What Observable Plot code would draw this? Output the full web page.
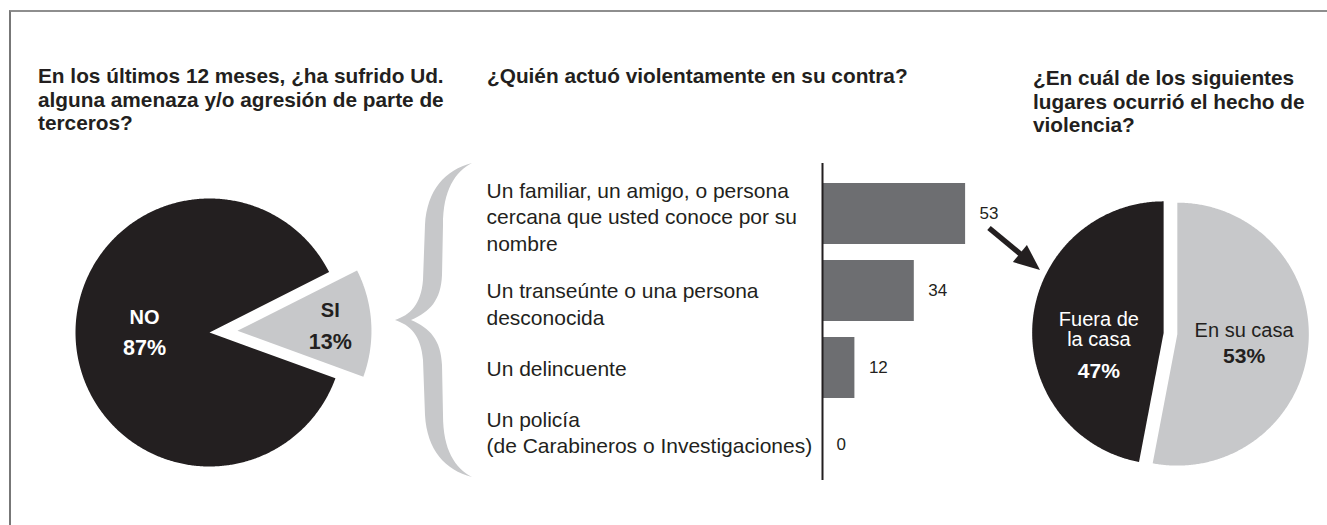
<!DOCTYPE html>
<html><head><meta charset="utf-8">
<script src="https://cdn.jsdelivr.net/npm/d3@7"></script>
<script src="https://cdn.jsdelivr.net/npm/@observablehq/plot@0.6"></script>
<style>
html,body{margin:0;padding:0;background:#fff;}
#wrap{position:relative;width:1327px;height:525px;overflow:hidden;background:#fff;
  font-family:"Liberation Sans",Arial,sans-serif;color:#231f20;}
.frame{position:absolute;left:9px;top:10px;right:-5px;bottom:-5px;border-top:2px solid #8e8e8e;border-left:2px solid #777;}
.title{position:absolute;font-weight:bold;font-size:20.8px;line-height:23.5px;white-space:nowrap;color:#231f20;}
.abs{position:absolute;}
</style></head><body>
<div id="wrap">
  <div class="frame"></div>
  <div id="t1" class="title" style="left:38px;top:64px;"></div>
  <div id="t2" class="title" style="left:487px;top:64px;"></div>
  <div id="t3" class="title" style="left:1033px;top:66px;"></div>
  <div id="pie1" class="abs" style="left:29px;top:152px;"></div>
  <div id="bars" class="abs" style="left:480px;top:150px;"></div>
  <div id="pie2" class="abs" style="left:1013px;top:176px;"></div>
  <svg class="abs" style="left:0;top:0;pointer-events:none" width="1327" height="525">
    <path id="brace" fill="#c7c8ca" d="M472,163 C445,170 427,190 425,225 L423,280 C421,305 410,315 395,320 C410,325 421,335 423,360 L425,415 C427,450 445,470 472,477 C455,468 443,450 443,415 L442,365 C441,340 430,328 411,320 C430,312 441,300 442,275 L443,225 C443,190 455,172 472,163 Z"/>
    <g id="arrow" fill="#231f20" stroke="#231f20">
      <line x1="989" y1="228" x2="1021" y2="254.5" stroke-width="5.5"/>
      <polygon stroke="none" points="1012.9,262 1026.9,245 1040,270"/>
    </g>
  </svg>
</div>
<script>
// ---------- Data ----------
const titleQ1 = ["En los últimos 12 meses, ¿ha sufrido Ud.", "alguna amenaza y/o agresión de parte de", "terceros?"];
const titleQ2 = ["¿Quién actuó violentamente en su contra?"];
const titleQ3 = ["¿En cuál de los siguientes", "lugares ocurrió el hecho de", "violencia?"];

const q1Categories = ["NO", "SI"];
const q1Values = [87, 13];

const q2Categories = [
  "Un familiar, un amigo, o persona\ncercana que usted conoce por su\nnombre",
  "Un transeúnte o una persona\ndesconocida",
  "Un delincuente",
  "Un policía\n(de Carabineros o Investigaciones)"
];
const q2Values = [53, 34, 12, 0];

const q3Categories = ["Fuera de\nla casa", "En su casa"];
const q3Values = [47, 53];

// ---------- Style / layout ----------
const DARK = "#231f20", LIGHT = "#c7c8ca", BAR = "#6d6e71";
const FONT = '"Liberation Sans",Arial,sans-serif';

document.getElementById("t1").innerHTML = titleQ1.join("<br>");
document.getElementById("t2").innerHTML = titleQ2.join("<br>");
document.getElementById("t3").innerHTML = titleQ3.join("<br>");

function piePlot({cats, vals, start, r, explode, colors, textColors, nameWeight, nameSize, pctSize, layout, size}) {
  const total = d3.sum(vals);
  const arcs = d3.pie().sort(null).startAngle(start).endAngle(start + 2 * Math.PI)(vals);
  const rows = [], labels = [];
  arcs.forEach((a, i) => {
    const mid = (a.startAngle + a.endAngle) / 2;
    const ox = explode[i] * Math.sin(mid), oy = -explode[i] * Math.cos(mid);
    rows.push({cat: cats[i], x: ox, y: oy});
    const n = Math.max(2, Math.ceil((a.endAngle - a.startAngle) / (Math.PI / 360)));
    for (let k = 0; k <= n; k++) {
      const t = a.startAngle + (a.endAngle - a.startAngle) * k / n;
      rows.push({cat: cats[i], x: ox + r * Math.sin(t), y: oy - r * Math.cos(t)});
    }
    const L = layout[i];
    const lx = ox + L.k * r * Math.sin(mid), ly = oy - L.k * r * Math.cos(mid);
    labels.push({cat: cats[i], x: lx, yName: ly + L.dyName, yPct: ly + L.dyPct,
      name: cats[i], pct: Math.round(vals[i] / total * 100) + "%", color: textColors[i]});
  });
  const h = size / 2;
  return Plot.plot({
    width: size, height: size, margin: 0,
    x: {domain: [-h, h], axis: null},
    y: {domain: [h, -h], axis: null},
    color: {domain: cats, range: colors},
    style: {fontFamily: FONT, background: "transparent", overflow: "visible"},
    marks: [
      Plot.line(rows, {x: "x", y: "y", z: "cat", fill: "cat", stroke: "none", curve: "linear"}),
      Plot.text(labels, {x: "x", y: "yName", text: "name", fill: "color", fontSize: nameSize, fontWeight: nameWeight,
        lineHeight: layout[0].nameLH, textAnchor: "middle", lineAnchor: "middle"}),
      Plot.text(labels, {x: "x", y: "yPct", text: "pct", fill: "color", fontSize: pctSize, fontWeight: "bold",
        textAnchor: "middle", lineAnchor: "middle"})
    ]
  });
}

document.getElementById("pie1").appendChild(piePlot({
  cats: q1Categories, vals: q1Values, start: 110 * Math.PI / 180, r: 134, explode: [0, 28],
  colors: [DARK, LIGHT], textColors: ["#fff", DARK], nameWeight: "bold", nameSize: 20, pctSize: 21.5, size: 360,
  layout: [{k: 0.485, dyName: -20.3, dyPct: 11.7, nameLH: 1.2}, {k: 0.694, dyName: -16, dyPct: 17}]
}));

document.getElementById("pie2").appendChild(piePlot({
  cats: q3Categories, vals: q3Values, start: -2 * Math.PI * q3Values[0] / d3.sum(q3Values), r: 134, explode: [7, 7],
  colors: [DARK, LIGHT], textColors: ["#fff", DARK], nameWeight: "normal", nameSize: 20.4, pctSize: 21.5, size: 320,
  layout: [{k: 0.495, dyName: 3.4, dyPct: 44.9, nameLH: 1.0}, {k: 0.51, dyName: -10.1, dyPct: 15.9}]
}));

// ---------- Bar chart ----------
const barData = q2Categories.map((c, i) => ({cat: c, value: q2Values[i]}));
const labelDy = [2, 12, 0, -13.5];
document.getElementById("bars").appendChild(Plot.plot({
  width: 530, height: 335, marginLeft: 342, marginRight: 26, marginTop: 13, marginBottom: 5,
  x: {domain: [0, 60], axis: null},
  y: {domain: q2Categories, range: [15.5, 342], padding: 0.213, axis: null},
  style: {fontFamily: FONT, background: "transparent", overflow: "visible", color: DARK},
  marks: [
    Plot.barX(barData, {x: "value", y: "cat", fill: BAR}),
    Plot.ruleX([0], {stroke: DARK, strokeWidth: 2}),
    Plot.text(barData, {x: "value", y: "cat", text: d => String(d.value), dx: 14, textAnchor: "start",
      fontSize: 17, fill: DARK}),
    ...barData.map((d, i) => Plot.text([d], {x: () => 0, y: "cat", text: "cat", dx: -336, dy: labelDy[i],
      textAnchor: "start", lineAnchor: "middle", fontSize: 21, lineHeight: 1.25, fill: DARK}))
  ]
}));
</script>
</body></html>
